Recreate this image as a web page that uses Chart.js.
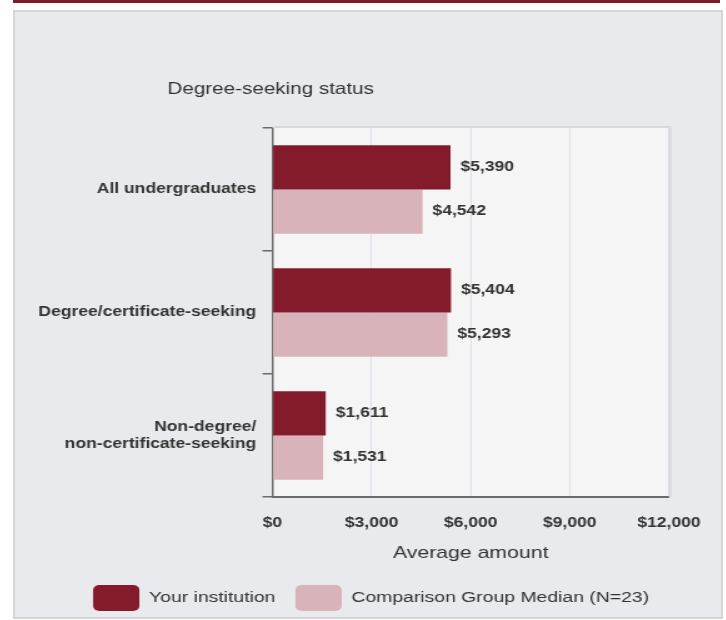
<!DOCTYPE html>
<html>
<head>
<meta charset="utf-8">
<script src="https://cdn.jsdelivr.net/npm/chart.js@4.4.1/dist/chart.umd.min.js"></script>
<style>
  html, body { margin: 0; padding: 0; background: #ffffff; width: 726px; height: 620px; overflow: hidden; }
  #stripe { position: absolute; left: 13px; top: 0; width: 707px; height: 3px; background: #7e1a2c; }
  #panel { position: absolute; left: 13px; top: 10px; width: 710px; height: 609px; box-sizing: border-box;
           border: 2px solid #d6d6d8; background: #e9eaee; }
  #c { position: absolute; left: 13px; top: 10px; }
</style>
</head>
<body>
<div id="stripe"></div>
<div id="panel"></div>
<canvas id="c" width="568" height="609" style="width:710px;height:609px;"></canvas>
<script>
// ---- data ----
const chartTitle = 'Degree-seeking status';
const categories = [
  'All undergraduates',
  'Degree/certificate-seeking',
  ['Non-degree/', 'non-certificate-seeking']
];
const seriesNames = ['Your institution', 'Comparison Group Median (N=23)'];
const yourInstitution = [5390, 5404, 1611];
const comparisonMedian = [4542, 5293, 1531];
const xTickValues = [0, 3000, 6000, 9000, 12000];
const xAxisTitle = 'Average amount';

const DARK = '#831b2d';
const LIGHT = '#d8b3b9';
const TEXT = '#333333';
const FONT = "'Liberation Sans', Arial, sans-serif";

const fmt = v => '$' + v.toLocaleString('en-US');

const plotBg = {
  id: 'plotBg',
  beforeDraw(chart) {
    const {ctx, chartArea: a} = chart;
    ctx.save();
    ctx.fillStyle = '#f5f5f5';
    ctx.fillRect(a.left, a.top, a.right - a.left, a.bottom - a.top);
    ctx.restore();
  },
  afterDraw(chart) {
    const {ctx, chartArea: a} = chart;
    ctx.save();
    ctx.strokeStyle = '#d8d9dc';
    ctx.lineWidth = 2;
    ctx.beginPath();
    ctx.moveTo(a.left, a.top - 1);
    ctx.lineTo(a.right + 1, a.top - 1);
    ctx.lineTo(a.right + 1, a.bottom);
    ctx.stroke();
    ctx.restore();
  }
};

const titlePlugin = {
  id: 'sideTitle',
  afterDraw(chart) {
    const {ctx, chartArea: a} = chart;
    ctx.save();
    ctx.font = "16.5px " + FONT;
    ctx.fillStyle = TEXT;
    ctx.textAlign = 'left';
    ctx.textBaseline = 'middle';
    ctx.fillText(chartTitle, a.left - 84, a.top - 39);
    ctx.restore();
  }
};

const valueLabels = {
  id: 'valueLabels',
  afterDatasetsDraw(chart) {
    const {ctx} = chart;
    ctx.save();
    ctx.font = "bold 14px " + FONT;
    ctx.fillStyle = TEXT;
    ctx.textAlign = 'left';
    ctx.textBaseline = 'middle';
    chart.data.datasets.forEach((ds, di) => {
      const meta = chart.getDatasetMeta(di);
      meta.data.forEach((bar, i) => {
        ctx.fillText(fmt(ds.data[i]), bar.x + 8, bar.y);
      });
    });
    ctx.restore();
  }
};

new Chart(document.getElementById('c'), {
  type: 'bar',
  data: {
    labels: categories,
    datasets: [
      { label: seriesNames[0], data: yourInstitution, backgroundColor: DARK, borderWidth: 0 },
      { label: seriesNames[1], data: comparisonMedian, backgroundColor: LIGHT, borderWidth: 0 }
    ]
  },
  options: {
    indexAxis: 'y',
    responsive: false,
    animation: false,
    devicePixelRatio: 1,
    categoryPercentage: 0.72,
    barPercentage: 1.0,
    layout: { padding: { top: 118, right: 0, left: 5, bottom: -2 } },
    scales: {
      x: {
        type: 'linear',
        min: 0, max: 12000,
        afterBuildTicks(scale) { scale.ticks = xTickValues.map(v => ({ value: v })); },
        afterFit(scale) { scale.height = 72; },
        grid: { color: '#dde0e9', lineWidth: 1, drawTicks: false },
        border: { display: true, color: '#6b6b6b', width: 2 },
        ticks: {
          padding: 18,
          color: TEXT,
          font: { family: FONT, size: 14, weight: 'bold' },
          callback: v => fmt(v)
        },
        title: {
          display: true,
          text: xAxisTitle,
          color: TEXT,
          font: { family: FONT, size: 17 },
          padding: { top: 0, bottom: 5 }
        }
      },
      y: {
        afterFit(scale) { scale.width = 202.6; },
        grid: { offset: true, drawOnChartArea: false, drawTicks: true, tickLength: 8, color: '#6b6b6b', lineWidth: 1.5 },
        border: { display: true, color: '#6b6b6b', width: 1.5 },
        ticks: {
          padding: 5,
          color: TEXT,
          font: { family: FONT, size: 14, weight: 'bold', lineHeight: 1.2 }
        }
      },
      yRightSpace: {
        type: 'category',
        position: 'right',
        afterFit(scale) { scale.width = 38; },
        grid: { display: false, drawTicks: false },
        border: { display: false },
        ticks: { display: false }
      }
    },
    plugins: {
      legend: {
        position: 'bottom',
        labels: {
          boxWidth: 37,
          boxHeight: 26,
          useBorderRadius: true,
          borderRadius: 5,
          padding: 16,
          color: TEXT,
          font: { family: FONT, size: 15.5 }
        }
      },
      tooltip: { enabled: false }
    }
  },
  plugins: [plotBg, titlePlugin, valueLabels]
});
</script>
</body>
</html>
